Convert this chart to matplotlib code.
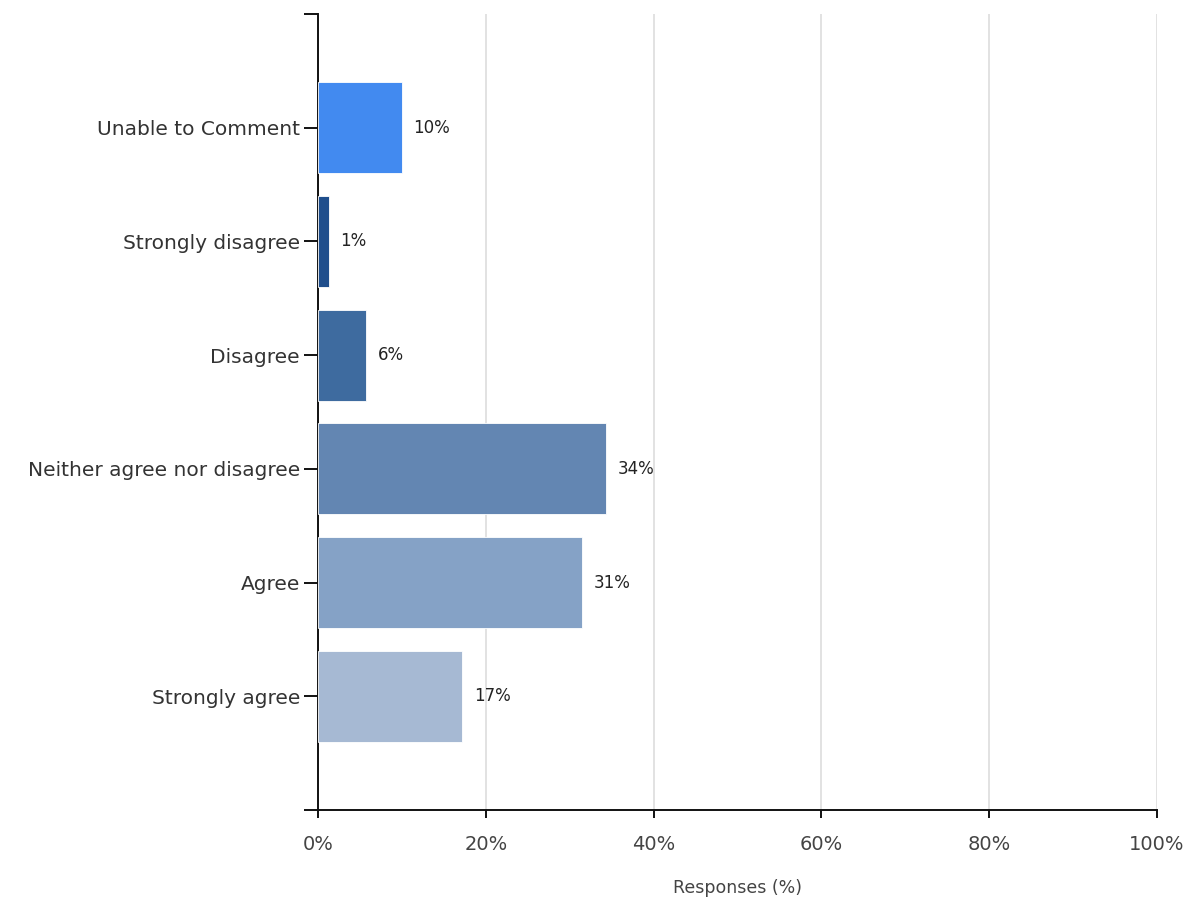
import matplotlib
matplotlib.use("Agg")
import matplotlib.pyplot as plt
from matplotlib.ticker import FixedLocator

# data
categories = ["Unable to Comment", "Strongly disagree", "Disagree",
              "Neither agree nor disagree", "Agree", "Strongly agree"]
values = [10.0, 1.3, 5.7, 34.3, 31.5, 17.2]
labels = ["10%", "1%", "6%", "34%", "31%", "17%"]
colors = ["#428AF0", "#1F4E8C", "#3E6B9F", "#6386B2", "#85A2C6", "#A6B9D3"]
x_ticks = [0, 20, 40, 60, 80, 100]

plt.rcParams["font.family"] = ["DejaVu Sans"]

fig = plt.figure(figsize=(11.9, 9.01), dpi=100)
ax = fig.add_axes([0.2672, 0.1010, 0.7051, 0.8835])

pos = list(range(len(categories)))
ax.barh(pos, values, height=0.8, color=colors, edgecolor="white", linewidth=0.6, zorder=3)

for p, v, lab in zip(pos, values, labels):
    ax.text(v + 1.4, p, lab, va="center", ha="left", fontsize=12,
            color="#222222", zorder=4)

ax.set_xlim(0, 100)
ax.set_ylim(len(categories), -1)
ax.set_xticks(x_ticks)
ax.set_xticklabels([f"{t}%" for t in x_ticks])
ax.set_yticks(pos)
ax.set_yticklabels(categories)
ax.yaxis.set_minor_locator(FixedLocator([-1, len(categories)]))
ax.xaxis.grid(True, color="#dddddd", linewidth=1.2, zorder=0)

for s in ["top", "right"]:
    ax.spines[s].set_visible(False)
for s in ["left", "bottom"]:
    ax.spines[s].set_linewidth(1.4)
    ax.spines[s].set_color("#111111")

ax.tick_params(axis="y", which="both", length=10, width=1.4, color="#111111",
               labelsize=14.5, labelcolor="#333333", pad=3)
ax.tick_params(axis="x", length=6, width=1.4, color="#111111",
               labelsize=14, labelcolor="#444444", pad=12)

ax.set_xlabel("Responses (%)", fontsize=12.5, color="#444444", labelpad=18)

fig.savefig("out.png", dpi=100)
